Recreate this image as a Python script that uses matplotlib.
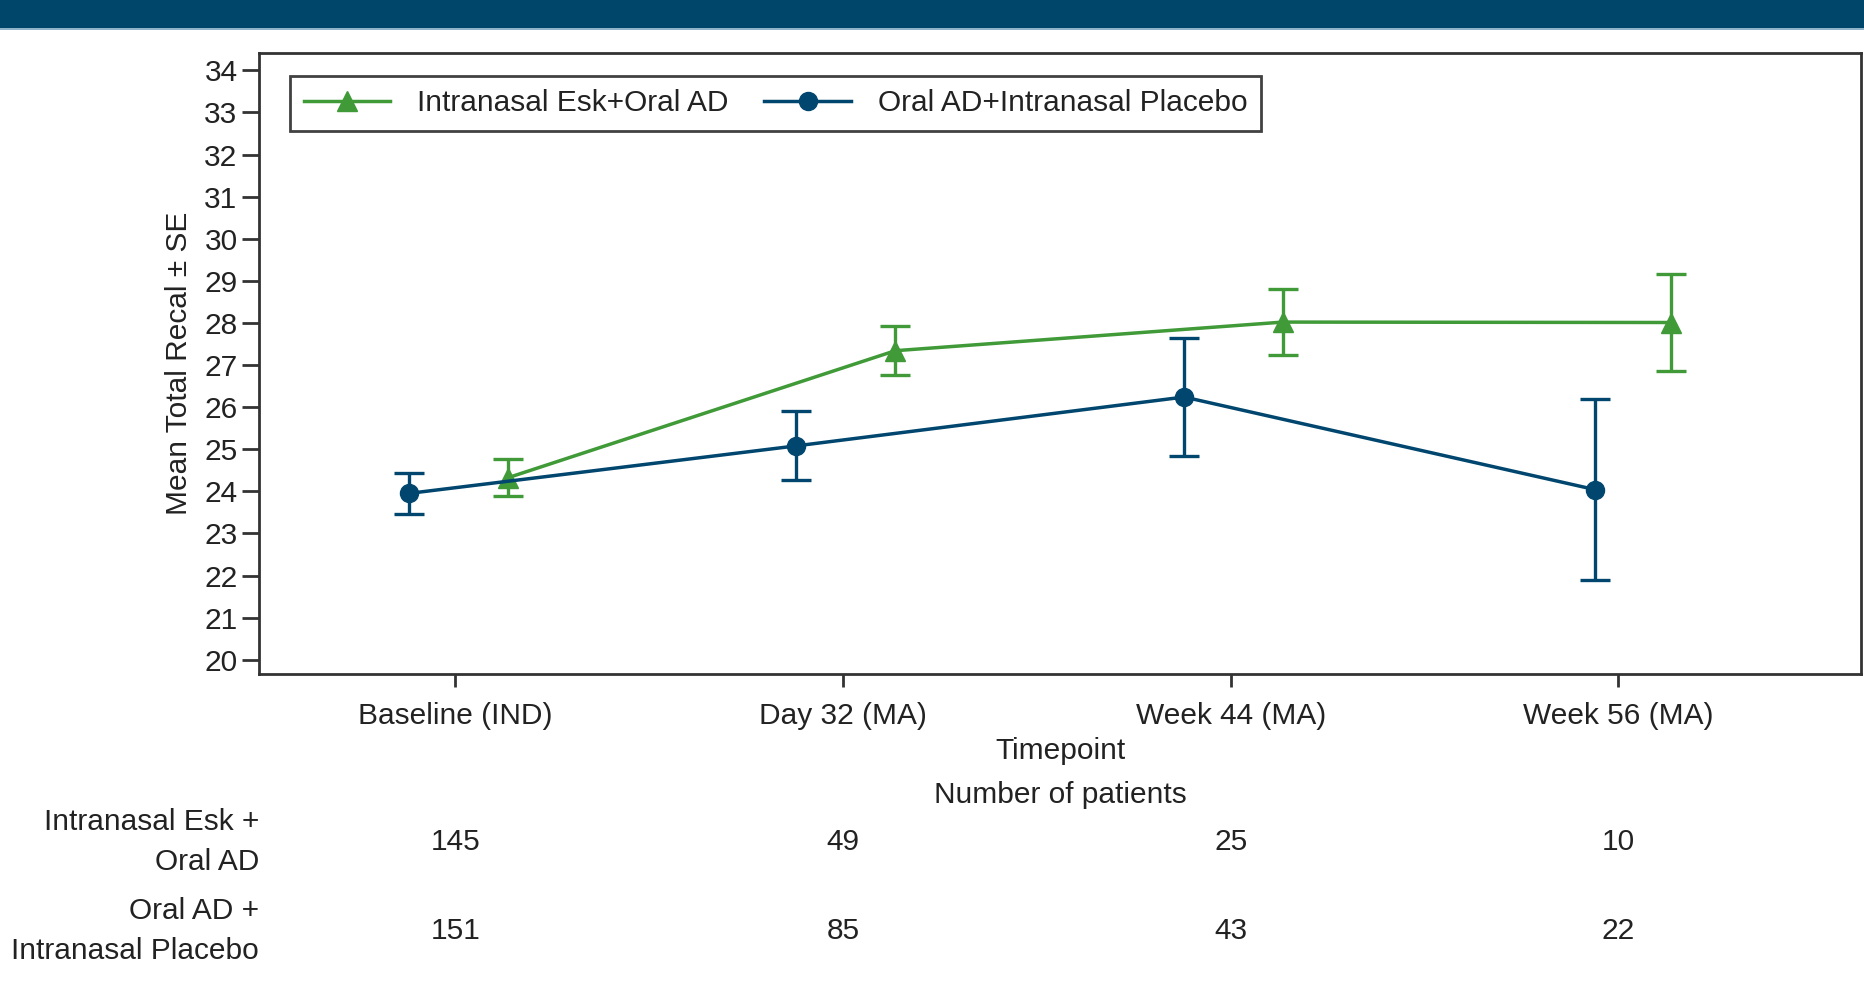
import numpy as np
from matplotlib import pyplot as plt
from matplotlib import transforms

plt.rcParams['font.family'] = ['Liberation Sans', 'DejaVu Sans']

timepoints = ['Baseline (IND)', 'Day 32 (MA)', 'Week 44 (MA)', 'Week 56 (MA)']
esk_mean = [24.32, 27.34, 28.02, 28.01]
esk_se = [0.44, 0.58, 0.78, 1.16]
plc_mean = [23.95, 25.08, 26.24, 24.04]
plc_se = [0.48, 0.82, 1.40, 2.15]
esk_n = [145, 49, 25, 10]
plc_n = [151, 85, 43, 22]
esk_label = 'Intranasal Esk+Oral AD'
plc_label = 'Oral AD+Intranasal Placebo'
row_labels = ['Intranasal Esk +\nOral AD', 'Oral AD +\nIntranasal Placebo']

green = '#3f9a37'
navy = '#00466e'
dark = '#333333'
fsize = 21.5

fig = plt.figure(figsize=(18.65, 9.85), dpi=100)

# banner at the top
fig.patches.append(plt.Rectangle((0, 1 - 28 / 985), 1, 28 / 985, transform=fig.transFigure,
                                 facecolor='#00466b', edgecolor='none'))
fig.patches.append(plt.Rectangle((0, 1 - 30 / 985), 1, 2 / 985, transform=fig.transFigure,
                                 facecolor='#8fb3c8', edgecolor='none'))

ax = fig.add_axes([0.1389, 0.3157, 0.9979 - 0.1389, 0.9457 - 0.3157])

x = np.arange(len(timepoints))
esk_x = x + 0.135
plc_x = x - np.array([0.12, 0.12, 0.12, 0.06])

ax.errorbar(esk_x, esk_mean, yerr=esk_se, fmt='none', ecolor=green, elinewidth=2.4,
            capsize=11, capthick=2.4, zorder=3)
ax.errorbar(plc_x, plc_mean, yerr=plc_se, fmt='none', ecolor=navy, elinewidth=2.4,
            capsize=11, capthick=2.4, zorder=3)
ax.plot(esk_x, esk_mean, '-^', color=green, lw=2.5, ms=15, label=esk_label, zorder=4)
ax.plot(plc_x, plc_mean, '-o', color=navy, lw=2.5, ms=13, label=plc_label, zorder=4)

ax.set_xlim(-0.506, 3.626)
ax.set_ylim(19.66, 34.4)
ax.set_yticks(np.arange(20, 35, 1))
ax.set_xticks(x)
ax.set_xticklabels(timepoints)
ax.tick_params(labelsize=fsize, colors=dark, labelcolor='#222222', width=2, length=9)
ax.tick_params(axis='x', pad=11)
ax.tick_params(axis='y', length=12)
for s in ax.spines.values():
    s.set_linewidth(2)
    s.set_color(dark)

ax.set_ylabel('Mean Total Recal \u00b1 SE', fontsize=fsize, color='#222222', labelpad=8)
ax.set_xlabel('Timepoint', fontsize=fsize, color='#222222', labelpad=5)

leg = ax.legend(loc='upper left', bbox_to_anchor=(0.0194, 0.9637), borderaxespad=0, ncol=2,
                fontsize=fsize, frameon=True, fancybox=False, edgecolor='#111111',
                handlelength=2.9, handletextpad=0.9, columnspacing=1.2, borderpad=0.45)
leg.get_frame().set_linewidth(2)
for t in leg.get_texts():
    t.set_color('#222222')

# number of patients table under the axis
fig.text(ax.get_position().x0 + ax.get_position().width / 2, 1 - 795 / 985, 'Number of patients',
         ha='center', va='center', fontsize=fsize, color='#222222')
trans = transforms.blended_transform_factory(ax.transData, fig.transFigure)
for counts, lab, ypix in [(esk_n, row_labels[0], 842), (plc_n, row_labels[1], 931)]:
    yy = 1 - ypix / 985
    fig.text(ax.get_position().x0, yy, lab, ha='right', va='center', fontsize=fsize,
             color='#222222', linespacing=1.55)
    for xi, n in zip(x, counts):
        ax.text(xi, yy, str(n), transform=trans, ha='center', va='center', fontsize=fsize,
                color='#222222')

plt.savefig('out.png', dpi=100)
plt.close()
